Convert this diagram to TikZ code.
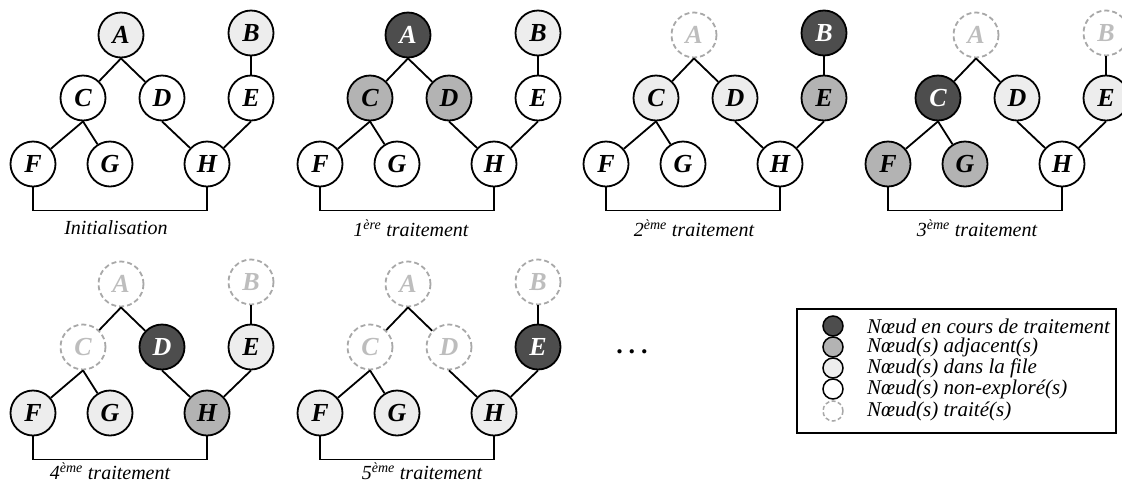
\documentclass[tikz,border=0pt]{standalone}
\usepackage{fontspec}
\setmainfont{Liberation Serif}
\definecolor{dk}{HTML}{4D4D4D}
\definecolor{md}{HTML}{B3B3B3}
\definecolor{lt}{HTML}{EDEDED}
\definecolor{dsh}{HTML}{A8A8A8}
\definecolor{dtx}{HTML}{BDBDBD}
\tikzset{
 nd/.style={circle, draw=black, line width=1.8pt, minimum size=45pt, inner sep=0pt,
   font=\fontsize{26}{26}\selectfont\bfseries\itshape},
 cur/.style={nd, fill=dk, text=white},
 adj/.style={nd, fill=md},
 que/.style={nd, fill=lt},
 une/.style={nd, fill=white},
 don/.style={nd, draw=dsh, dash pattern=on 5pt off 3pt, text=dtx},
 ed/.style={line width=1.8pt},
 captxt/.style={font=\fontsize{20}{20}\selectfont\itshape, inner sep=1pt},
 lgc/.style={circle, line width=1.5pt, minimum size=20pt, inner sep=0pt},
 lgt/.style={anchor=west, inner sep=0pt, font=\fontsize{21}{21}\selectfont\itshape},
}
\newcommand\bfsg[9]{%
 \node[#2] (#1A) at (121,35) {A};
 \node[#3] (#1B) at (251,33) {B};
 \node[#4] (#1C) at (83,98) {C};
 \node[#5] (#1D) at (162,98) {D};
 \node[#6] (#1E) at (251,98) {E};
 \node[#7] (#1F) at (33,164) {F};
 \node[#8] (#1G) at (110,164) {G};
 \node[#9] (#1H) at (207,164) {H};
 \draw[ed] (#1A.south) -- (#1C);
 \draw[ed] (#1A.south) -- (#1D);
 \draw[ed] (#1B.south) -- (#1E);
 \draw[ed] (#1C.south) -- (#1F);
 \draw[ed] (#1C.south) -- (#1G);
 \draw[ed] (#1D.south) -- (#1H);
 \draw[ed] (#1E.south) -- (#1H);
 \draw[ed] (#1F.south) -- ++(0,23) -| (#1H.south);
}
\begin{document}
\begin{tikzpicture}[x=1pt,y=-1pt]
\useasboundingbox (0,0) rectangle (1122,483);
\begin{scope}[shift={(0,0)}]
 \bfsg{a}{que}{que}{une}{une}{une}{une}{une}{une}
 \node[captxt] (acap) at (116,228) {Initialisation};
\end{scope}
\begin{scope}[shift={(287,0)}]
 \bfsg{b}{cur}{que}{adj}{adj}{une}{une}{une}{une}
 \node[captxt] (bcap) at (124,228) {1\textsuperscript{ère} traitement};
\end{scope}
\begin{scope}[shift={(573,0)}]
 \bfsg{c}{don}{cur}{que}{que}{adj}{une}{une}{une}
 \node[captxt] (ccap) at (121,228) {2\textsuperscript{ème} traitement};
\end{scope}
\begin{scope}[shift={(855,0)}]
 \bfsg{d}{don}{don}{cur}{que}{que}{adj}{adj}{une}
 \node[captxt] (dcap) at (122,228) {3\textsuperscript{ème} traitement};
\end{scope}
\begin{scope}[shift={(0,249)}]
 \bfsg{e}{don}{don}{don}{cur}{que}{que}{que}{adj}
 \node[captxt] (ecap) at (110,222) {4\textsuperscript{ème} traitement};
\end{scope}
\begin{scope}[shift={(287,249)}]
 \bfsg{f}{don}{don}{don}{don}{cur}{que}{que}{que}
 \node[captxt] (fcap) at (135,222) {5\textsuperscript{ème} traitement};
\end{scope}
\node[font=\fontsize{26}{26}\selectfont\bfseries] (dots) at (632,352) {.\hspace{6pt}.\hspace{6pt}.};
\node[draw=black, line width=1.8pt, minimum width=319pt, minimum height=124pt, inner sep=0pt] (lg) at (956.5,371) {};
\node[lgc, draw=black, fill=dk] (l1) at (833,326) {};
\node[lgc, draw=black, fill=md] (l2) at (833,347) {};
\node[lgc, draw=black, fill=lt] (l3) at (833,368) {};
\node[lgc, draw=black, fill=white] (l4) at (833,389) {};
\node[lgc, draw=dsh, dash pattern=on 4pt off 2.5pt] (l5) at (833,411) {};
\node[lgt] (t1) at (867,326) {Nœud en cours de traitement};
\node[lgt] (t2) at (867,347) {Nœud(s) adjacent(s)};
\node[lgt] (t3) at (867,368) {Nœud(s) dans la file};
\node[lgt] (t4) at (867,389) {Nœud(s) non-exploré(s)};
\node[lgt] (t5) at (867,411) {Nœud(s) traité(s)};
\end{tikzpicture}
\end{document}
